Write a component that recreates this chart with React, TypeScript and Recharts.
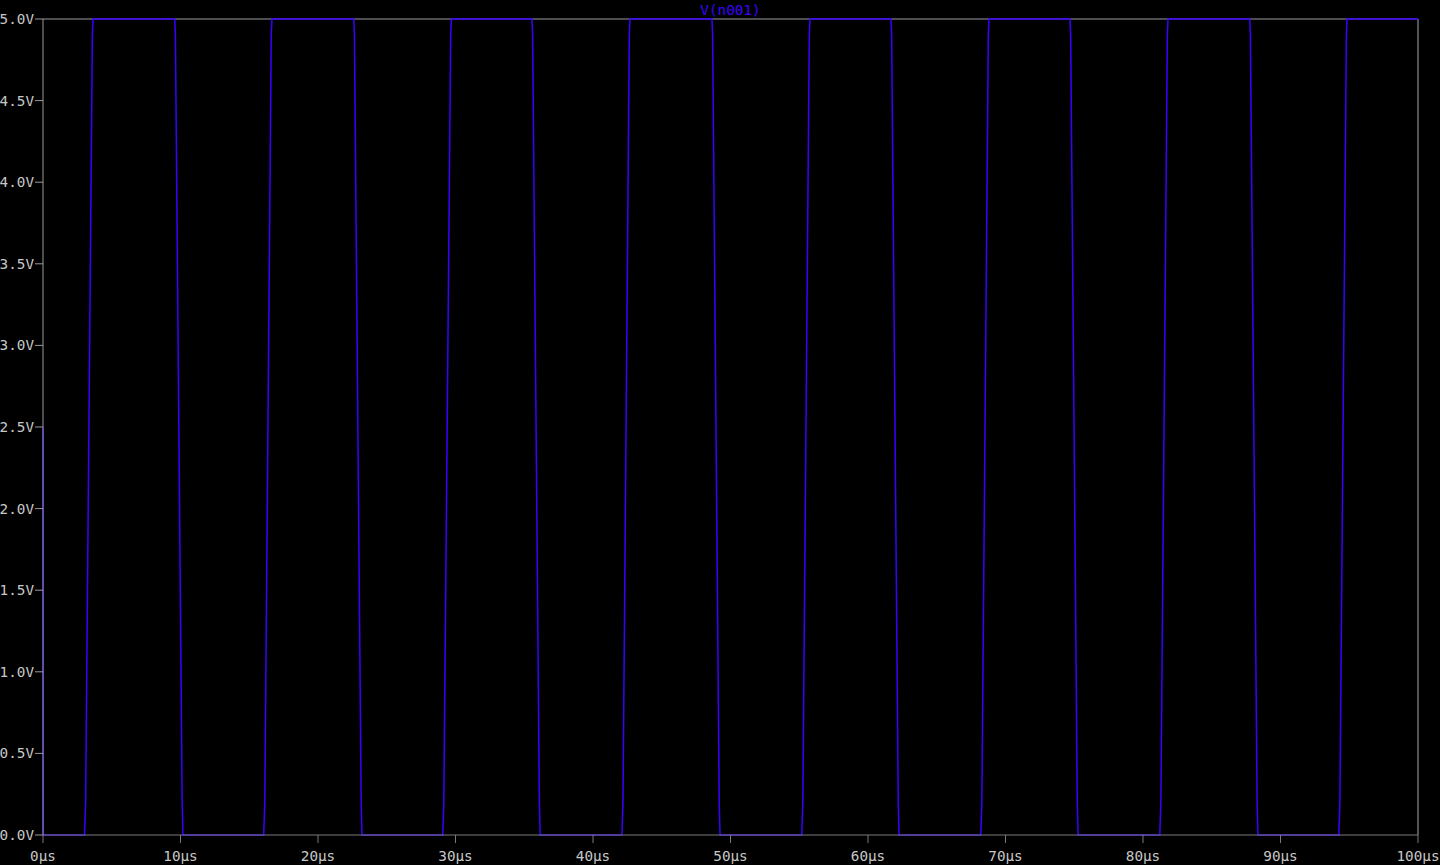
import { LineChart, Line, XAxis, YAxis, ReferenceLine } from 'recharts';

// transient trace V(n001)
const timeUs = [
  0, 0.02,
  3.02, 3.1, 3.59, 3.64,
  9.58, 9.63, 10.12, 10.18,
  16.05, 16.13, 16.6, 16.65,
  22.6, 22.65, 23.14, 23.2,
  29.07, 29.15, 29.65, 29.7,
  35.56, 35.61, 36.1, 36.16,
  42.1, 42.18, 42.64, 42.69,
  48.65, 48.7, 49.18, 49.24,
  55.18, 55.26, 55.73, 55.78,
  61.67, 61.72, 62.2, 62.26,
  68.2, 68.28, 68.75, 68.8,
  74.69, 74.74, 75.22, 75.28,
  81.22, 81.3, 81.77, 81.82,
  87.76, 87.81, 88.3, 88.36,
  94.24, 94.32, 94.79, 94.84,
  100,
];
const volts = [
  2.5, 0,
  0, 0.2, 4.9, 5,
  5, 4.9, 0.2, 0,
  0, 0.2, 4.9, 5,
  5, 4.9, 0.2, 0,
  0, 0.2, 4.9, 5,
  5, 4.9, 0.2, 0,
  0, 0.2, 4.9, 5,
  5, 4.9, 0.2, 0,
  0, 0.2, 4.9, 5,
  5, 4.9, 0.2, 0,
  0, 0.2, 4.9, 5,
  5, 4.9, 0.2, 0,
  0, 0.2, 4.9, 5,
  5, 4.9, 0.2, 0,
  0, 0.2, 4.9, 5,
  5,
];
const xTicks = [0, 10, 20, 30, 40, 50, 60, 70, 80, 90, 100];
const yTicks = [0, 0.5, 1, 1.5, 2, 2.5, 3, 3.5, 4, 4.5, 5];

const data = timeUs.map((t, i) => ({ t, v: volts[i] }));

const mono = 'DejaVu Sans Mono, monospace';
const tickStyle = { fontSize: 14.3, fill: '#c8c8c8', fontFamily: mono };

export default function App() {
  return (
    <div style={{ position: 'fixed', left: 0, top: 0, width: 1440, height: 865, background: '#000' }}>
      <div
        style={{
          position: 'absolute',
          left: 0,
          width: 1461,
          top: 2,
          textAlign: 'center',
          fontFamily: mono,
          fontSize: 14.3,
          color: '#3c00ff',
        }}
      >
        V(n001)
      </div>
      <LineChart width={1440} height={865} data={data} margin={{ top: 19, right: 22, bottom: 0, left: 0 }}>
        <XAxis
          dataKey="t"
          type="number"
          domain={[0, 100]}
          ticks={xTicks}
          tickFormatter={(v) => `${v}µs`}
          height={30}
          tickSize={8}
          tickMargin={8}
          stroke="#7a7a7a"
          tick={tickStyle}
          interval={0}
        />
        <YAxis
          type="number"
          domain={[0, 5]}
          ticks={yTicks}
          tickFormatter={(v) => `${Number(v).toFixed(1)}V`}
          width={43}
          tickSize={8}
          tickMargin={1}
          stroke="#9a9a9a"
          tick={tickStyle}
          interval={0}
        />
        <ReferenceLine y={5} stroke="#686868" strokeWidth={1.5} />
        <ReferenceLine x={100} stroke="#a8a8a8" />
        <Line
          type="linear"
          dataKey="v"
          stroke="#3a00ff"
          strokeWidth={1.5}
          dot={false}
          isAnimationActive={false}
        />
      </LineChart>
    </div>
  );
}
